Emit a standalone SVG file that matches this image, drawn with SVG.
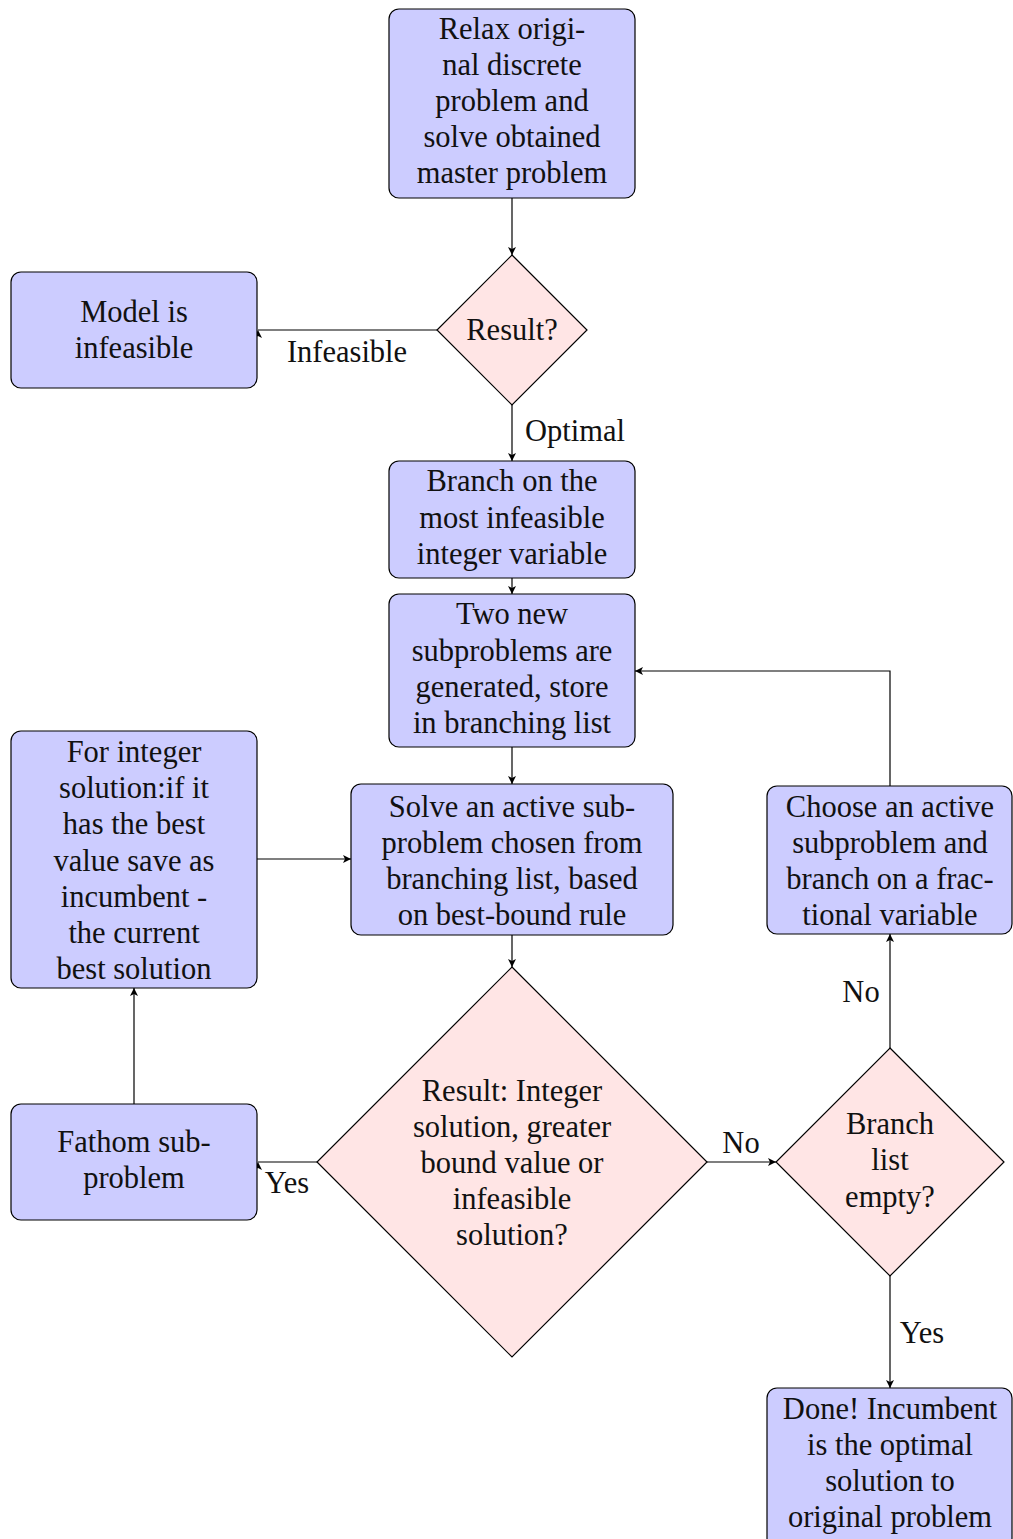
<svg xmlns="http://www.w3.org/2000/svg" width="1013" height="1539" viewBox="0 0 1013 1539" font-family="'Liberation Serif', serif" font-size="30.5">
<style>
.box{fill:#ccccff;stroke:#000;stroke-width:1.2}
.dia{fill:#ffe5e5;stroke:#000;stroke-width:1.2}
.t{fill:#111;text-anchor:middle}
.c{fill:none;stroke:#000;stroke-width:1.2}
</style>
<defs>
<marker id="a" markerUnits="userSpaceOnUse" markerWidth="10" markerHeight="10" refX="8" refY="4" orient="auto">
<path d="M0,0 L8,4 L0,8 L2,4 Z" fill="#000"/>
</marker>
<marker id="up" markerUnits="userSpaceOnUse" markerWidth="10" markerHeight="10" refX="8" refY="4" orient="270">
<path d="M0,0 L8,4 L0,8 L2,4 Z" fill="#000"/>
</marker>
</defs>
<g id="connectors">
<path class="c" d="M512,198 V255" marker-end="url(#a)"/>
<path class="c" d="M437,330 H258" marker-end="url(#up)"/>
<path class="c" d="M512,405 V461" marker-end="url(#a)"/>
<path class="c" d="M512,578 V594" marker-end="url(#a)"/>
<path class="c" d="M512,747 V784" marker-end="url(#a)"/>
<path class="c" d="M257,859 H351" marker-end="url(#a)"/>
<path class="c" d="M512,935 V967" marker-end="url(#a)"/>
<path class="c" d="M317,1162 H258" marker-end="url(#up)"/>
<path class="c" d="M134,1104 V988" marker-end="url(#a)"/>
<path class="c" d="M707,1162 H776" marker-end="url(#a)"/>
<path class="c" d="M890,1048 V934" marker-end="url(#a)"/>
<path class="c" d="M890,786 V671 H635" marker-end="url(#a)"/>
<path class="c" d="M890,1276 V1388" marker-end="url(#a)"/>
<text class="t" x="347" y="362">Infeasible</text>
<text class="t" x="575" y="441">Optimal</text>
<text class="t" x="287" y="1193">Yes</text>
<text class="t" x="741" y="1153">No</text>
<text class="t" x="861" y="1002">No</text>
<text class="t" x="922" y="1343">Yes</text>
</g>
<g id="relax">
<rect class="box" x="389" y="9" width="246" height="189" rx="10"/>
<text class="t" x="512" y="39">Relax origi-</text>
<text class="t" x="512" y="75">nal discrete</text>
<text class="t" x="512" y="111">problem and</text>
<text class="t" x="512" y="147">solve obtained</text>
<text class="t" x="512" y="183">master problem</text>
</g>
<g id="result1">
<polygon class="dia" points="512,255 587,330 512,405 437,330"/>
<text class="t" x="512" y="340">Result?</text>
</g>
<g id="infeasible">
<rect class="box" x="11" y="272" width="246" height="116" rx="10"/>
<text class="t" x="134" y="322">Model is</text>
<text class="t" x="134" y="358">infeasible</text>
</g>
<g id="branch">
<rect class="box" x="389" y="461" width="246" height="117" rx="10"/>
<text class="t" x="512" y="491">Branch on the</text>
<text class="t" x="512" y="528">most infeasible</text>
<text class="t" x="512" y="564">integer variable</text>
</g>
<g id="twonew">
<rect class="box" x="389" y="594" width="246" height="153" rx="10"/>
<text class="t" x="512" y="624">Two new</text>
<text class="t" x="512" y="661">subproblems are</text>
<text class="t" x="512" y="697">generated, store</text>
<text class="t" x="512" y="733">in branching list</text>
</g>
<g id="solve">
<rect class="box" x="351" y="784" width="322" height="151" rx="10"/>
<text class="t" x="512" y="817">Solve an active sub-</text>
<text class="t" x="512" y="853">problem chosen from</text>
<text class="t" x="512" y="889">branching list, based</text>
<text class="t" x="512" y="925">on best-bound rule</text>
</g>
<g id="incumbent">
<rect class="box" x="11" y="731" width="246" height="257" rx="10"/>
<text class="t" x="134" y="762">For integer</text>
<text class="t" x="134" y="798">solution:if it</text>
<text class="t" x="134" y="834">has the best</text>
<text class="t" x="134" y="871">value save as</text>
<text class="t" x="134" y="907">incumbent -</text>
<text class="t" x="134" y="943">the current</text>
<text class="t" x="134" y="979">best solution</text>
</g>
<g id="result2">
<polygon class="dia" points="512,967 707,1162 512,1357 317,1162"/>
<text class="t" x="512" y="1101">Result: Integer</text>
<text class="t" x="512" y="1137">solution, greater</text>
<text class="t" x="512" y="1173">bound value or</text>
<text class="t" x="512" y="1209">infeasible</text>
<text class="t" x="512" y="1245">solution?</text>
</g>
<g id="fathom">
<rect class="box" x="11" y="1104" width="246" height="116" rx="10"/>
<text class="t" x="134" y="1152">Fathom sub-</text>
<text class="t" x="134" y="1188">problem</text>
</g>
<g id="empty">
<polygon class="dia" points="890,1048 1004,1162 890,1276 776,1162"/>
<text class="t" x="890" y="1134">Branch</text>
<text class="t" x="890" y="1170">list</text>
<text class="t" x="890" y="1207">empty?</text>
</g>
<g id="choose">
<rect class="box" x="767" y="786" width="245" height="148" rx="10"/>
<text class="t" x="890" y="817">Choose an active</text>
<text class="t" x="890" y="853">subproblem and</text>
<text class="t" x="890" y="889">branch on a frac-</text>
<text class="t" x="890" y="925">tional variable</text>
</g>
<g id="done">
<rect class="box" x="767" y="1388" width="245" height="160" rx="10"/>
<text class="t" x="890" y="1419">Done! Incumbent</text>
<text class="t" x="890" y="1455">is the optimal</text>
<text class="t" x="890" y="1491">solution to</text>
<text class="t" x="890" y="1527">original problem</text>
</g>
</svg>
